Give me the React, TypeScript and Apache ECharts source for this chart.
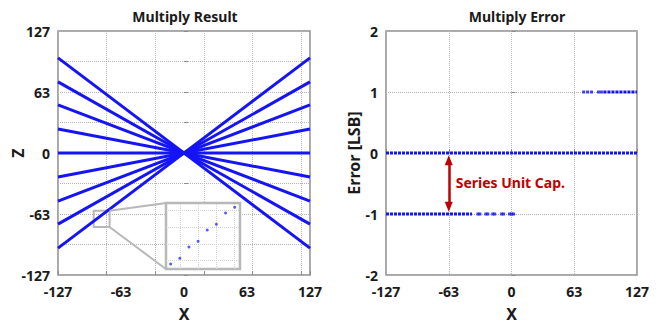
import React, { useEffect, useRef } from 'react';
import * as echarts from 'echarts';

// Multiply Result: value of each product line at X = 127 (line runs from -127 to 127 through 0)
const resultEndZ = [99, 74, 50, 25, 0, -25, -50, -74, -99];
const xLimit = 127;

// Zoomed inset (staircase of quantized product)
const insetX = [0, 1, 2, 3, 4, 5, 6, 7];
const insetZ = [0, 1, 3, 4, 6, 7, 9, 10];
const insetGridX = [1, 3, 5, 7];
const insetGridZ = [0.6, 3.5, 6.5, 9.4];

// Magnifier box on the main plot [x0, z0, x1, z1]
const zoomBox = [-91, -60, -75, -77];
// Inset corners seen in main-plot units [x, zTop, zBottom]
const insetCorner = [-18, -52, -121];

// Multiply Error rows
const errZeroSpan = [-127, 127];
const errNegDenseSpan = [-127, -40];
const errNegSparseX = [-34, -32, -26, -24, -19, -17, -10, -8, -2, 0, 2];
const errPosSparseX = [73, 77, 81, 88, 91];
const errPosDenseSpan = [93, 127];

// Annotation
const capArrowX = -63.5;
const capArrowSpan = [-0.12, -0.88];
const capLabel = 'Series Unit Cap.';

const FONT = 'Noto Sans';
const BLUE = '#1414f4';
const RED = '#c00000';
const TEXT = '#1a1a1a';
const FRAME = '#8c8c8c';

const labelStyle = { color: TEXT, fontSize: 14, fontWeight: 'bold' as const, fontFamily: FONT };
const nameStyle = { color: TEXT, fontSize: 16, fontWeight: 'bold' as const, fontFamily: FONT };
const gridLine = { show: true, lineStyle: { color: '#b4b4b4', type: 'dotted' as const, width: 1 } };
const inTick = { show: true, inside: true, length: 4, lineStyle: { color: FRAME } };
const trunc = (v: number) => String(Math.trunc(v));

export default function App() {
  const ref = useRef<HTMLDivElement>(null);
  useEffect(() => {
    if (!ref.current) return;
    const chart = echarts.init(ref.current, undefined, { renderer: 'svg' });
    const lineSeries = resultEndZ.map((v, i) => {
      const s: any = {
        type: 'line',
        xAxisIndex: 0,
        yAxisIndex: 0,
        data: [[-xLimit, -v], [xLimit, v]],
        symbol: 'none',
        silent: true,
        lineStyle: { color: BLUE, width: 3 },
        z: 2,
      };
      if (i === 0) {
        s.markArea = {
          silent: true,
          itemStyle: { color: 'rgba(0,0,0,0)', borderColor: '#b8b8b8', borderWidth: 2 },
          data: [[{ coord: [zoomBox[0], zoomBox[1]] }, { coord: [zoomBox[2], zoomBox[3]] }]],
        };
        s.markLine = {
          silent: true,
          symbol: 'none',
          label: { show: false },
          lineStyle: { color: '#b8b8b8', width: 2, type: 'solid' },
          data: [
            [{ coord: [zoomBox[2], zoomBox[1]] }, { coord: [insetCorner[0], insetCorner[1]] }],
            [{ coord: [zoomBox[2], zoomBox[3]] }, { coord: [insetCorner[0], insetCorner[2]] }],
          ],
        };
      }
      return s;
    });

    const option: any = {
      animation: false,
      title: [
        { text: 'Multiply Result', left: 180, top: 4, textAlign: 'center', textStyle: { ...labelStyle, fontSize: 14 } },
        { text: 'Multiply Error', left: 512, top: 4, textAlign: 'center', textStyle: { ...labelStyle, fontSize: 14 } },
      ],
      grid: [
        { left: 58, top: 31, width: 252, height: 244, show: true, borderColor: FRAME, borderWidth: 1.5, backgroundColor: 'transparent' },
        { left: 386, top: 31, width: 251, height: 244, show: true, borderColor: FRAME, borderWidth: 1.5, backgroundColor: 'transparent' },
        { left: 166, top: 203, width: 74, height: 66, show: true, borderColor: '#b8b8b8', borderWidth: 2.5, backgroundColor: '#ffffff', z: 5 },
      ],
      xAxis: [
        {
          gridIndex: 0, type: 'value', min: -127, max: 127, interval: 63.5,
          axisLine: { show: false }, axisTick: { show: false }, splitLine: { show: false },
          axisLabel: { ...labelStyle, margin: 9, formatter: trunc, showMinLabel: true, showMaxLabel: true, hideOverlap: false },
          name: 'X', nameLocation: 'middle', nameGap: 31, nameTextStyle: nameStyle, nameMoveOverlap: false,
        },
        {
          gridIndex: 0, type: 'value', position: 'bottom', min: 0, max: 254, interval: 49,
          axisLine: { show: false }, axisLabel: { show: false }, axisTick: inTick, splitLine: gridLine,
        },
        {
          gridIndex: 1, type: 'value', min: -127, max: 127, interval: 63.5,
          axisLine: { show: false }, axisTick: inTick, splitLine: gridLine,
          axisLabel: { ...labelStyle, margin: 9, formatter: trunc, showMinLabel: true, showMaxLabel: true, hideOverlap: false },
          name: 'X', nameLocation: 'middle', nameGap: 31, nameTextStyle: nameStyle, nameMoveOverlap: false,
        },
        { gridIndex: 2, type: 'value', min: -0.51, max: 7.58, show: false },
      ],
      yAxis: [
        {
          gridIndex: 0, type: 'value', min: -127, max: 127, interval: 31.75,
          axisLine: { show: false }, axisTick: inTick, splitLine: gridLine,
          axisLabel: {
            ...labelStyle, margin: 8, showMinLabel: true, showMaxLabel: true, hideOverlap: false,
            formatter: (v: number) => (Math.abs(v % 63.5) < 1e-6 ? trunc(v) : ''),
          },
          name: 'Z', nameLocation: 'middle', nameGap: 32, nameTextStyle: nameStyle, nameMoveOverlap: false,
        },
        {
          gridIndex: 1, type: 'value', min: -2, max: 2, interval: 1,
          axisLine: { show: false }, axisTick: inTick, splitLine: gridLine,
          axisLabel: { ...labelStyle, margin: 8, showMinLabel: true, showMaxLabel: true, hideOverlap: false },
          name: 'Error [LSB]', nameLocation: 'middle', nameGap: 24, nameTextStyle: { ...nameStyle, fontSize: 16 }, nameMoveOverlap: false,
        },
        { gridIndex: 2, type: 'value', min: -0.88, max: 10.76, show: false },
      ],
      series: [
        ...lineSeries,
        {
          type: 'scatter', xAxisIndex: 3, yAxisIndex: 2, z: 6, silent: true,
          data: insetX.map((x, i) => [x, insetZ[i]]),
          symbol: 'circle', symbolSize: 3, itemStyle: { color: '#3030ff' },
          markLine: {
            silent: true, symbol: 'none', label: { show: false },
            lineStyle: { color: '#d2d2d2', type: 'dotted', width: 1 },
            data: [...insetGridX.map((x) => ({ xAxis: x })), ...insetGridZ.map((z) => ({ yAxis: z }))],
          },
        },
        {
          type: 'line', xAxisIndex: 2, yAxisIndex: 1, symbol: 'none', silent: true,
          data: [[errZeroSpan[0], 0], [errZeroSpan[1], 0]],
          lineStyle: { color: BLUE, width: 3, type: [3, 1] },
          markLine: {
            silent: true, symbol: ['triangle', 'triangle'], symbolSize: [8, 10],
            label: { show: false },
            lineStyle: { color: RED, width: 2.5, type: 'solid' },
            itemStyle: { color: RED },
            data: [[{ coord: [capArrowX, capArrowSpan[0]] }, { coord: [capArrowX, capArrowSpan[1]] }]],
          },
          markPoint: {
            silent: true, symbol: 'circle', symbolSize: 1, itemStyle: { color: 'rgba(0,0,0,0)' },
            label: { show: true, position: 'right', distance: 0, formatter: capLabel, color: RED, fontWeight: 'bold', fontSize: 14, fontFamily: FONT },
            data: [{ coord: [-57, -0.49] }],
          },
        },
        {
          type: 'line', xAxisIndex: 2, yAxisIndex: 1, symbol: 'none', silent: true,
          data: [[errNegDenseSpan[0], -1], [errNegDenseSpan[1], -1]],
          lineStyle: { color: BLUE, width: 3, type: [3, 1] },
        },
        {
          type: 'scatter', xAxisIndex: 2, yAxisIndex: 1, silent: true,
          data: errNegSparseX.map((x) => [x, -1]),
          symbol: 'rect', symbolSize: [3, 3], itemStyle: { color: BLUE },
        },
        {
          type: 'scatter', xAxisIndex: 2, yAxisIndex: 1, silent: true,
          data: errPosSparseX.map((x) => [x, 1]),
          symbol: 'rect', symbolSize: [3, 3], itemStyle: { color: BLUE },
        },
        {
          type: 'line', xAxisIndex: 2, yAxisIndex: 1, symbol: 'none', silent: true,
          data: [[errPosDenseSpan[0], 1], [errPosDenseSpan[1], 1]],
          lineStyle: { color: BLUE, width: 3, type: [3, 1] },
        },
      ],
    };
    chart.setOption(option);
    return () => chart.dispose();
  }, []);
  return (
    <div
      ref={ref}
      style={{ position: 'absolute', left: 0, top: 0, width: 660, height: 327, background: '#fff' }}
    />
  );
}
